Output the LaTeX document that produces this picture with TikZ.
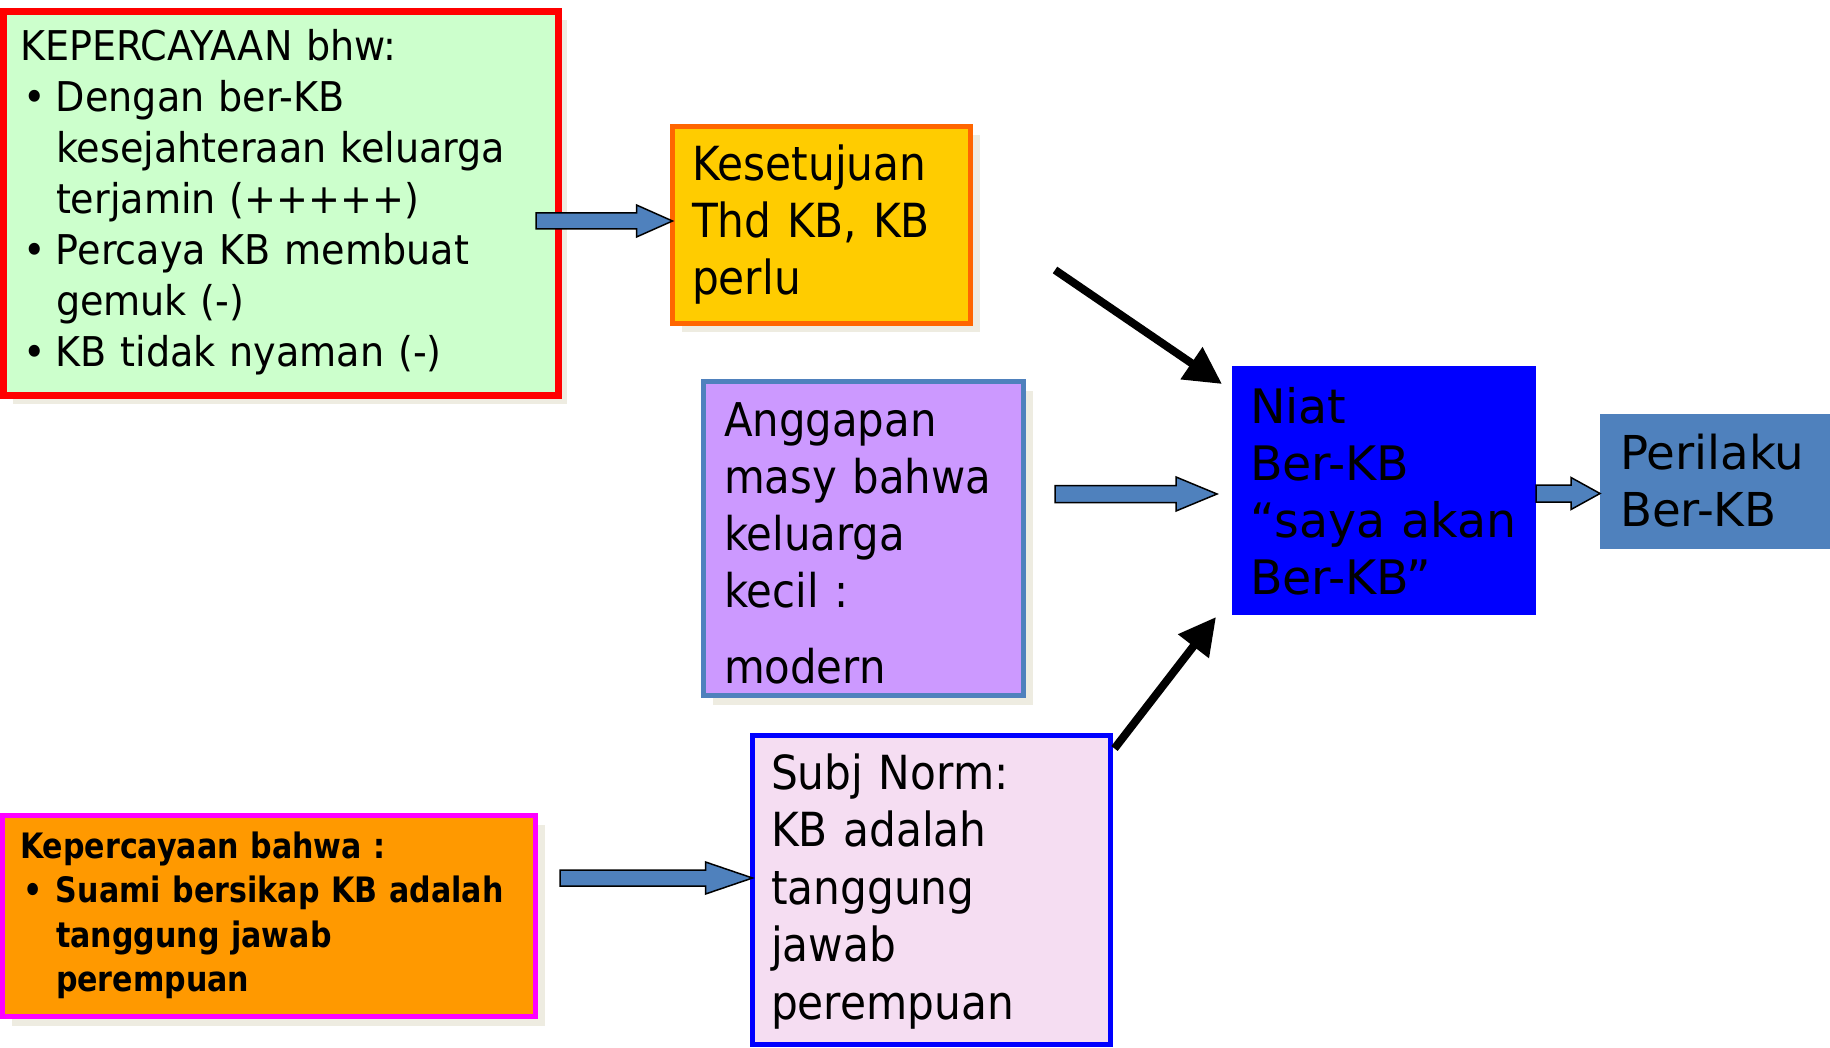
\documentclass[tikz,border=0pt]{standalone}
\usepackage{fontspec}
\setmainfont{DejaVu Sans}[FakeStretch=0.9]
\newfontfamily\fwide{DejaVu Sans}
\newfontfamily\fred{DejaVu Sans}[FakeStretch=0.93]
\newfontfamily\fbot{DejaVu Sans}[FakeStretch=0.86]
\usetikzlibrary{arrows.meta,shadows,calc}
\definecolor{cgreen}{HTML}{CCFFCC}
\definecolor{cred}{HTML}{FF0000}
\definecolor{cyellow}{HTML}{FFCC00}
\definecolor{corange}{HTML}{FF6600}
\definecolor{cpurple}{HTML}{CC99FF}
\definecolor{csteel}{HTML}{4F81BD}
\definecolor{cblue}{HTML}{0000FF}
\definecolor{corg2}{HTML}{FF9900}
\definecolor{cmag}{HTML}{FF00FF}
\definecolor{cpink}{HTML}{F5DDF2}
\definecolor{cshadow}{HTML}{EEECE1}
\newcommand\fz[2]{\fontsize{#1}{#2}\selectfont}
\newcommand\bl[1]{\makebox[#1][l]{\hspace*{3pt}•}}
\newcommand\ind[1]{\hspace*{#1}}
\tikzset{
 box/.style={rectangle, inner sep=0pt, outer sep=0pt, anchor=north west},
 shad/.style={drop shadow={shadow xshift=9pt, shadow yshift=-9pt, fill=cshadow, opacity=1}},
 txt/.style={inner sep=0pt, outer sep=0pt, anchor=base west, align=left, text width=#1},
 blk/.style={draw=black, line width=1.5pt, fill=csteel, line join=miter},
 bigarrow/.style={draw=black, line width=8pt, -{Triangle[length=37pt,width=37pt]}},
}
\newcommand\blockarr[5]{\draw[blk] let \p1=(#1), \p2=(#2) in (\x1,\y1+#3) -- (\x2-#5,\y1+#3) -- (\x2-#5,\y1+#4) -- (\x2,\y1) -- (\x2-#5,\y1-#4) -- (\x2-#5,\y1-#3) -- (\x1,\y1-#3) -- cycle;}
\begin{document}
\begin{tikzpicture}[x=1pt,y=-1pt]
\fill[white] (0,0) rectangle (1830,1048);
\useasboundingbox (0,0) rectangle (1830,1048);

% boxes
\node[box, shad, draw=cred, line width=7pt, fill=cgreen, minimum width=554.5pt, minimum height=383.5pt] (kep) at (3.5,11.5) {};
\node[txt=530pt, font=\fred\fz{41}{51}] (kept) at (20,61) {KEPERCAYAAN bhw:\\
\bl{36pt}Dengan ber-KB\\
\ind{36pt}kesejahteraan keluarga\\
\ind{36pt}terjamin (+++++)\\
\bl{36pt}Percaya KB membuat\\
\ind{36pt}gemuk (-)\\
\bl{36pt}KB tidak nyaman (-)};

\node[box, shad, draw=corange, line width=5pt, fill=cyellow, minimum width=298pt, minimum height=197pt] (kes) at (672.5,126.5) {};
\node[txt=280pt, font=\fz{47}{57}] (kest) at (692,181) {Kesetujuan\\Thd KB, KB\\perlu};

\node[box, shad, draw=csteel, line width=5pt, fill=cpurple, minimum width=320pt, minimum height=314pt] (ang) at (703.5,381.5) {};
\node[txt=300pt, font=\fz{46.5}{57.3}] (angt) at (724,436) {Anggapan\\masy bahwa\\keluarga\\kecil :\\[18pt]modern};

\node[box, fill=cblue, minimum width=304pt, minimum height=249pt] (niat) at (1232,366) {};
\node[txt=290pt, font=\fwide\fz{47.5}{57.3}] (niatt) at (1250,423) {Niat\\Ber-KB\\“saya akan\\Ber-KB”};

\node[box, fill=csteel, minimum width=250pt, minimum height=135pt] (per) at (1600,414) {};
\node[txt=225pt, font=\fwide\fz{46.7}{57}] (pert) at (1620,469) {Perilaku\\Ber-KB};

\node[box, shad, draw=cmag, line width=5pt, fill=corg2, minimum width=533pt, minimum height=201pt] (kep2) at (2.5,815.5) {};
\node[txt=515pt, font=\fbot\bfseries\fz{35}{44.5}] (kep2t) at (20,858) {Kepercayaan bahwa :\\
\bl{36pt}Suami bersikap KB adalah\\
\ind{36pt}tanggung jawab\\
\ind{36pt}perempuan};

\node[box, draw=cblue, line width=5pt, fill=cpink, minimum width=358pt, minimum height=309pt] (subj) at (752.5,735.5) {};
\node[txt=330pt, font=\fz{47}{57.5}] (subjt) at (771,789) {Subj Norm:\\KB adalah\\tanggung\\jawab\\perempuan};

% connector end points
\coordinate (a1s) at (536,221);
\coordinate (a2s) at (1055,494);
\coordinate (a2e) at (1217,494);
\coordinate (a3s) at ($(niat.east)+(0,3)$);
\coordinate (a4s) at (560,878);
\coordinate (b1s) at (1055,270);
\coordinate (b1e) at ($(niat.north west)+(-10,18)$);
\coordinate (b2s) at ($(subj.north east)+(4,13)$);
\coordinate (b2e) at ($(niat.south west)+(-16,2)$);

% block arrows
\blockarr{a1s}{kes.west}{8pt}{16pt}{36pt}
\blockarr{a2s}{a2e}{8.5pt}{17pt}{41pt}
\blockarr{a3s}{per.west}{8.5pt}{16pt}{29pt}
\blockarr{a4s}{subj.west}{8pt}{16pt}{47pt}

% black arrows
\draw[bigarrow] (b1s) -- (b1e);
\draw[bigarrow] (b2s) -- (b2e);
\end{tikzpicture}
\end{document}
